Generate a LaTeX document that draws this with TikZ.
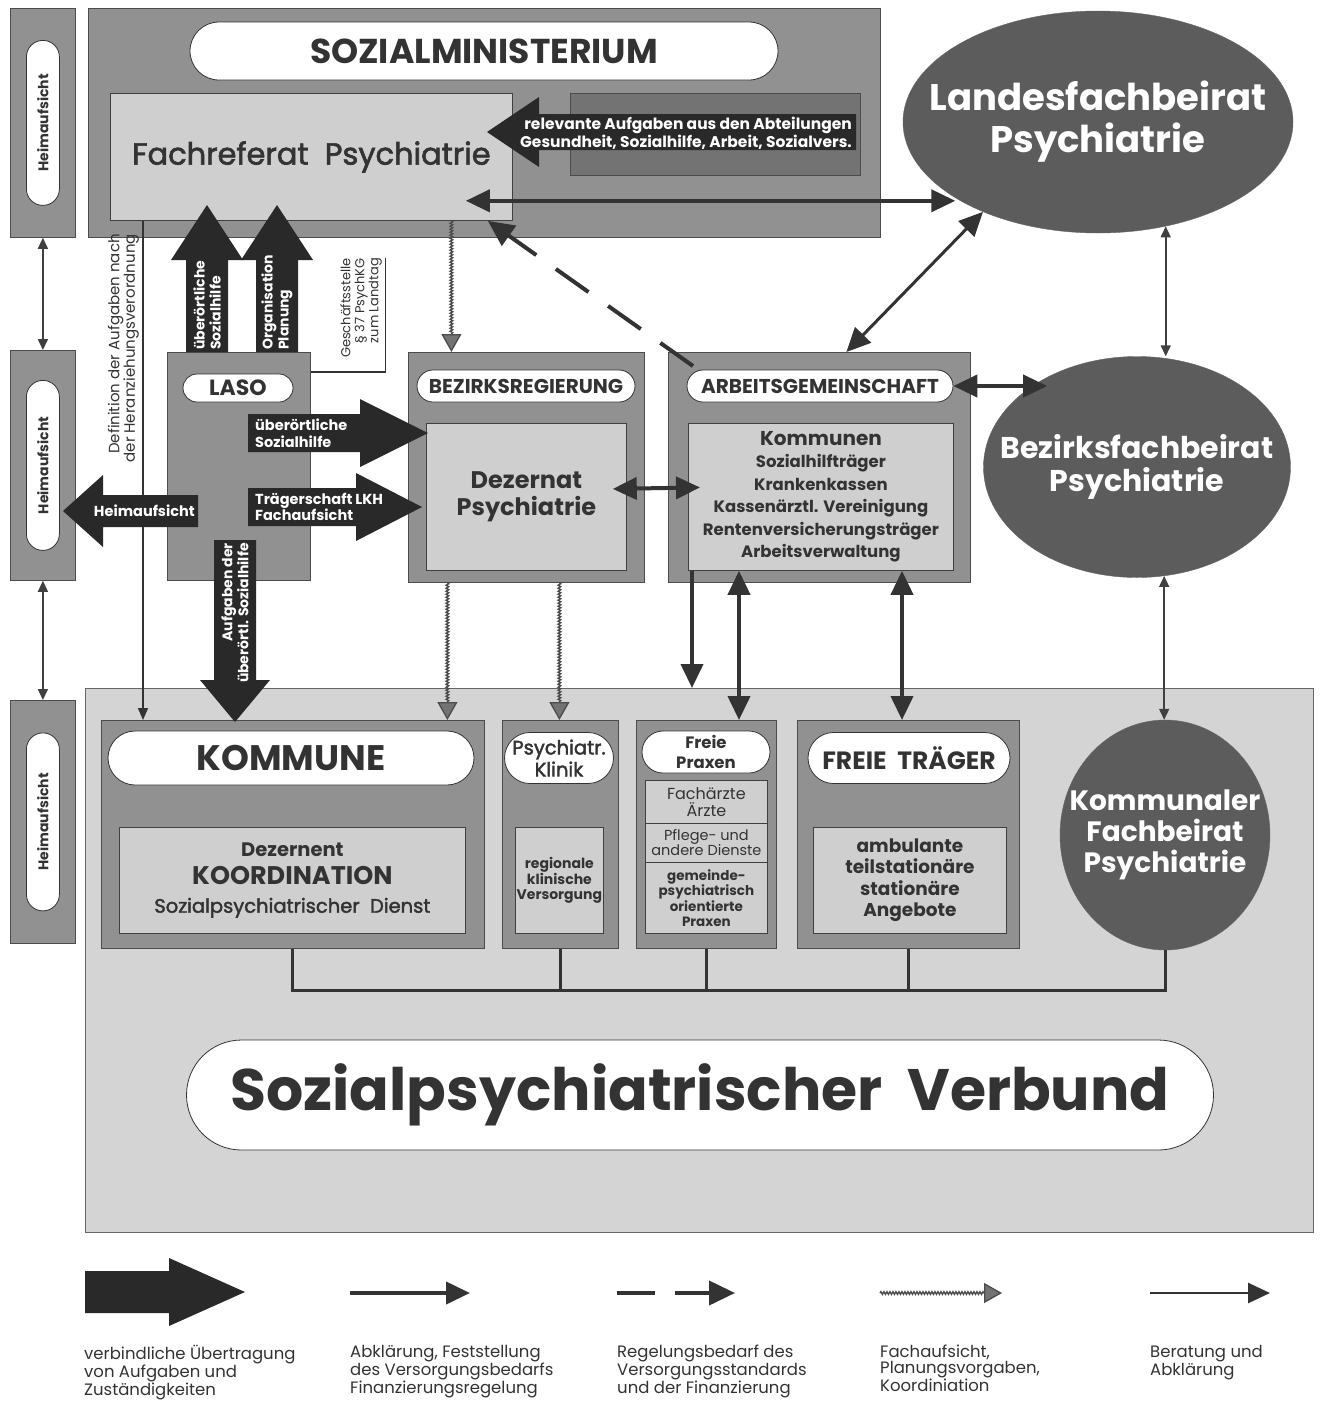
\documentclass[tikz,border=0pt]{standalone}
\usepackage{fontspec}
\setmainfont{Poppins}
\newfontfamily\medfont{Poppins}[FakeBold=2]
\usetikzlibrary{arrows.meta,shapes.geometric,shapes.misc,decorations.pathmorphing}

\definecolor{framegray}{gray}{0.57}
\definecolor{innergray}{gray}{0.81}
\definecolor{verbgray}{gray}{0.83}
\definecolor{relgray}{gray}{0.45}
\definecolor{beiratgray}{gray}{0.36}
\definecolor{blockgray}{gray}{0.16}
\definecolor{ink}{gray}{0.2}

\newcommand\fsz[2]{\fontsize{#1}{#2}\selectfont}

\begin{document}
\begin{tikzpicture}[x=1pt,y=-1pt]
    % \draw[step=50,help lines] (0,0) grid (1321,1401);
    \tikzset{
      frame/.style={draw=black!70,fill=framegray,line width=.8pt,anchor=north west,inner sep=0pt},
      inbox/.style={draw=black!75,fill=innergray,line width=.8pt,anchor=north west,inner sep=0pt,align=center,text=ink},
      pill/.style={rounded rectangle,draw=black!80,fill=white,line width=.8pt,inner sep=0pt,align=center,text=ink},
      vpill/.style={pill,rotate=90,minimum height=33,font=\bfseries\fsz{14}{16}},
      beirat/.style={ellipse,draw=black!60,fill=beiratgray,inner sep=0pt},
      beirattext/.style={text=white,align=center,inner sep=0pt},
      blocktext/.style={text=white,font=\bfseries\fsz{14.5}{16.5},inner sep=0pt},
      legend/.style={anchor=north west,align=left,inner sep=0pt,text=ink,font=\fsz{16.5}{16}},
      abkl/.style={line width=4pt,draw=black!80,-{Triangle[length=24pt,width=22pt]}},
      abkl2/.style={line width=4pt,draw=black!80,{Triangle[length=24pt,width=22pt]}-{Triangle[length=24pt,width=22pt]}},
      ber/.style={line width=1.6pt,draw=black!75,{Triangle[length=11pt,width=10pt]}-{Triangle[length=11pt,width=10pt]}},
      defl/.style={line width=1.4pt,draw=black!80,-{Triangle[length=12pt,width=10pt]}},
      fachauf/.style={draw=black!70,line width=1.3pt,decorate,
        decoration={snake,amplitude=1.4pt,segment length=3pt,post length=18pt},
        -{Triangle[length=18pt,width=20pt,fill=black!55]}},
      regdash/.style={line width=4pt,draw=black!80,dash pattern=on 40pt off 24pt,-{Triangle[length=26pt,width=24pt]}},
      bus/.style={line width=3pt,draw=black!80},
      pics/blockarrow/.style n args={4}{code={
        \fill[blockgray] (0,-#2) -- ({#1-#4},-#2) -- ({#1-#4},-#3) -- (#1,0)
          -- ({#1-#4},#3) -- ({#1-#4},#2) -- (0,#2) -- cycle;}}
    }
    \path[use as bounding box,fill=white] (0,0) rectangle (1321,1401);

    % Verbund
    \node[frame,fill=verbgray,draw=black!60,minimum width=1228,minimum height=544] (verb) at (85,688) {};

    % Heimaufsicht
    \node[frame,minimum width=65,minimum height=229] (hb1) at (10,8) {};
    \node[frame,minimum width=65,minimum height=230] (hb2) at (10,350) {};
    \node[frame,minimum width=65,minimum height=243] (hb3) at (10,700) {};
    \node[vpill,minimum width=165] (hp1) at (hb1.center) {Heimaufsicht};
    \node[vpill,minimum width=170] (hp2) at (hb2.center) {Heimaufsicht};
    \node[vpill,minimum width=178] (hp3) at (hb3.center) {Heimaufsicht};
    \draw[ber] (hb1) -- (hb2);
    \draw[ber] (hb2) -- (hb3);

    % Sozialministerium
    \node[frame,minimum width=792,minimum height=229] (sm) at (88,8) {};
    \node[pill,minimum width=588,minimum height=58,font=\bfseries\fsz{34.5}{36}] (smpill) at (484,51) {SOZIALMINISTERIUM};
    \node[inbox,minimum width=402,minimum height=127,font=\medfont\fsz{30.5}{34}] (fr) at (110,93) {Fachreferat\ \ Psychiatrie};
    \node[frame,fill=relgray,minimum width=290,minimum height=82] (rel) at (570,93) {};
    \pic[rotate=180] at (856,132) {blockarrow={369}{18}{35}{52}};
    \node[blocktext,align=right,anchor=east,font=\bfseries\fsz{15.5}{16}] (reltxt) at (852,133)
      {relevante Aufgaben aus den Abteilungen\\Gesundheit, Sozialhilfe, Arbeit, Sozialvers.};

    % Fachbeiraete
    \node[beirat,minimum width=390,minimum height=222] (lfb) at (1098,122) {};
    \node[beirattext,font=\bfseries\fsz{37}{42}] (lfbtxt) at (lfb.center) {Landesfachbeirat\\Psychiatrie};
    \node[beirat,minimum width=307,minimum height=221] (bfb) at (1137,467) {};
    \node[beirattext,font=\bfseries\fsz{30}{33}] (bfbtxt) at (bfb.center) {Bezirksfachbeirat\\Psychiatrie};
    \node[beirat,minimum width=210,minimum height=230] (kfb) at (1165,835) {};
    \node[beirattext,font=\bfseries\fsz{28}{31}] (kfbtxt) at (kfb.center) {Kommunaler\\Fachbeirat\\Psychiatrie};

    % LASO
    \node[frame,minimum width=143,minimum height=228] (laso) at (167,352) {};
    \node[pill,minimum width=110,minimum height=28,font=\bfseries\fsz{22}{23}] (lasopill) at (238,388) {LASO};

    % Bezirksregierung
    \node[frame,minimum width=236,minimum height=230] (bez) at (408,352) {};
    \node[pill,minimum width=218,minimum height=32,font=\bfseries\fsz{20}{22}] (bezpill) at (526,386) {BEZIRKSREGIERUNG};
    \node[inbox,minimum width=200,minimum height=147,font=\bfseries\fsz{24}{27}] (dez) at (426,423) {Dezernat\\Psychiatrie};

    % Arbeitsgemeinschaft
    \node[frame,minimum width=302,minimum height=230] (ag) at (668,352) {};
    \node[pill,minimum width=266,minimum height=32,font=\bfseries\fsz{20}{22}] (agpill) at (820,386) {ARBEITSGEMEINSCHAFT};
    \node[inbox,minimum width=265,minimum height=147,font=\bfseries\fsz{16.5}{22.5}] (agin) at (688,423)
      {{\fsz{20}{24}Kommunen}\\Sozialhilfträger\\Krankenkassen\\Kassenärztl. Vereinigung\\Rentenversicherungsträger\\Arbeitsverwaltung};

    % lower boxes
    \node[frame,minimum width=383,minimum height=228] (kom) at (101,720) {};
    \node[pill,minimum width=366,minimum height=54,font=\bfseries\fsz{35.5}{37}] (kompill) at (291,758) {KOMMUNE};
    \node[inbox,minimum width=346,minimum height=106,font=\fsz{19.5}{28}] (komin) at (119,827)
      {{\bfseries Dezernent}\\{\bfseries\fsz{25.5}{28}KOORDINATION}\\{\medfont\fsz{19.5}{22}Sozialpsychiatrischer\ \ Dienst}};

    \node[frame,minimum width=116,minimum height=228] (klinik) at (502,720) {};
    \node[pill,minimum width=104,minimum height=51,font=\medfont\fsz{19.5}{22}] (klinikpill) at (559,758) {Psychiatr.\\Klinik};
    \node[inbox,minimum width=88,minimum height=106,font=\bfseries\fsz{14}{15}] (klinikin) at (515,827) {regionale\\klinische\\Versorgung};

    \node[frame,minimum width=140,minimum height=228] (fp) at (636,720) {};
    \node[pill,minimum width=128,minimum height=42,font=\bfseries\fsz{16.5}{20}] (fppill) at (706,752) {Freie\\Praxen};
    \node[inbox,minimum width=122,minimum height=43,font=\fsz{16}{17}] (fp1) at (645,780) {Fachärzte\\Ärzte};
    \node[inbox,minimum width=122,minimum height=39,font=\fsz{14.5}{15}] (fp2) at (645,823) {Pflege- und\\andere Dienste};
    \node[inbox,minimum width=122,minimum height=71,font=\bfseries\fsz{13.5}{15.5}] (fp3) at (645,862) {gemeinde-\\psychiatrisch\\orientierte\\Praxen};

    \node[frame,minimum width=222,minimum height=228] (ft) at (797,720) {};
    \node[pill,minimum width=202,minimum height=51,font=\bfseries\fsz{25}{27}] (ftpill) at (909,758) {FREIE\ \ TRÄGER};
    \node[inbox,minimum width=193,minimum height=106,font=\bfseries\fsz{18.5}{21.5}] (ftin) at (813,827) {ambulante\\teilstationäre\\stationäre\\Angebote};

    \node[pill,minimum width=1027,minimum height=110,font=\bfseries\fsz{58.5}{62}] (verbpill) at (700,1095) {Sozialpsychiatrischer\ \ Verbund};

    % bus
    \coordinate (busy) at ([shift={(0,42)}]kom.south);
    \draw[bus] (kom.south) -- (busy) -| (kfb.south);
    \foreach \n in {klinik,fp,ft}
      \draw[bus] (\n.south) -- (\n.south |- busy);

    % Definition der Aufgaben
    \coordinate (df) at ([shift={(33,0)}]fr.south west);
    \draw[defl] (df) -- (df |- kom.north);
    \node[rotate=90,anchor=south east,align=right,inner sep=0pt,text=ink,font=\fsz{15}{15.5}] (deftxt) at (139,234)
      {Definition der Aufgaben nach\\der Heranziehungsverordnung};

    % Geschaeftsstelle
    \draw[line width=1.2pt,black!80] ([shift={(0,20)}]laso.north east) -- ++(75,0) -- ++(0,-114);
    \node[rotate=90,anchor=south east,align=right,inner sep=0pt,text=ink,font=\fsz{13}{14}] (gs) at (382,258)
      {Geschäftsstelle\\§ 37 PsychKG\\zum Landtag};

    % block arrows of LASO
    \pic[rotate=90] at (207,352) {blockarrow={147}{21}{36}{55}};
    \pic[rotate=90] at (277,352) {blockarrow={147}{21}{36}{55}};
    \node[blocktext,rotate=90,anchor=west,align=left,font=\bfseries\fsz{14}{16}] (ua1) at (207,350) {überörtliche\\Sozialhilfe};
    \node[blocktext,rotate=90,anchor=west,align=left,font=\bfseries\fsz{14}{16}] (ua2) at (277,350) {Organisation\\Planung};
    \pic at (248,433) {blockarrow={180}{19}{34}{68}};
    \node[blocktext,anchor=west,align=left] (ra1) at (255,433) {überörtliche\\Sozialhilfe};
    \pic at (248,507) {blockarrow={174}{19}{34}{66}};
    \node[blocktext,anchor=west,align=left] (ra2) at (255,507) {Trägerschaft LKH\\Fachaufsicht};
    \pic[rotate=180] at (198,511) {blockarrow={135}{16}{36}{40}};
    \node[blocktext,anchor=east] (la) at (195,511) {Heimaufsicht};
    \pic[rotate=-90] at (235,540) {blockarrow={182}{21}{35}{42}};
    \node[blocktext,rotate=90,anchor=east,align=right,font=\bfseries\fsz{14}{16}] (da) at (235,543) {Aufgaben der\\überörtl. Sozialhilfe};

    % connectors
    \coordinate (frr) at ([shift={(-47,-20)}]fr.south east);
    \draw[abkl2] (frr) -- (frr -| lfb.208);
    \draw[abkl2,line width=3pt] (lfb.218) -- ([shift={(27,0)}]ag.north);
    \draw[ber] (lfb.303) -- (lfb.303 |- bfb.north);
    \draw[abkl2] (agpill.east) -- (agpill.east -| bfb.135);
    \draw[ber] (bfb.284) -- (bfb.284 |- kfb.north);
    \draw[regdash] ([shift={(25,14)}]ag.north west) -- ([shift={(-25,0)}]fr.south east);

    \coordinate (fa0) at ([shift={(-75,0)}]bez.north);
    \draw[fachauf] (fr.south -| fa0) -- (fa0);
    \coordinate (fa1) at ([shift={(-79,0)}]bez.south);
    \coordinate (fa2) at ([shift={(33,0)}]bez.south);
    \draw[fachauf] (fa1) -- (fa1 |- kom.north);
    \draw[fachauf] (fa2) -- (fa2 |- klinik.north);

    \draw[abkl2] ([shift={(-14,-8)}]dez.east) -- ([shift={(12,-9.5)}]agin.west);
    \coordinate (ab1) at ([shift={(4,0)}]agin.south west);
    \coordinate (ab2) at ([shift={(51,0)}]agin.south west);
    \coordinate (ab3) at ([shift={(214,0)}]agin.south west);
    \draw[abkl] (ab1) -- (ab1 |- verb.north);
    \draw[abkl2] (ab2) -- (ab2 |- fp.north);
    \draw[abkl2] (ab3) -- (ab3 |- ft.north);

    % legend
    \pic at (85,1292) {blockarrow={160}{21}{34}{76}};
    \coordinate (l2a) at (350,1293);
    \coordinate (l2b) at (470,1293);
    \draw[abkl] (l2a) -- (l2b);
    \coordinate (l3a) at (617,1293);
    \coordinate (l3b) at (735,1293);
    \draw[regdash,dash pattern=on 38pt off 20pt] (l3a) -- (l3b);
    \coordinate (l4a) at (880,1293);
    \coordinate (l4b) at (1002,1293);
    \draw[fachauf] (l4a) -- (l4b);
    \coordinate (l5a) at (1150,1293);
    \coordinate (l5b) at (1270,1293);
    \draw[line width=2.8pt,draw=black!80,-{Triangle[length=22pt,width=20pt]}] (l5a) -- (l5b);
    \node[legend] (lt1) at (84,1345) {verbindliche Übertragung\\von Aufgaben und\\Zuständigkeiten};
    \node[legend] (lt2) at (350,1345) {Abklärung, Feststellung\\des Versorgungsbedarfs\\Finanzierungsregelung};
    \node[legend] (lt3) at (617,1345) {Regelungsbedarf des\\Versorgungsstandards\\und der Finanzierung};
    \node[legend] (lt4) at (880,1345) {Fachaufsicht,\\Planungsvorgaben,\\Koordiniation};
    \node[legend] (lt5) at (1150,1345) {Beratung und\\Abklärung};
\end{tikzpicture}
\end{document}
